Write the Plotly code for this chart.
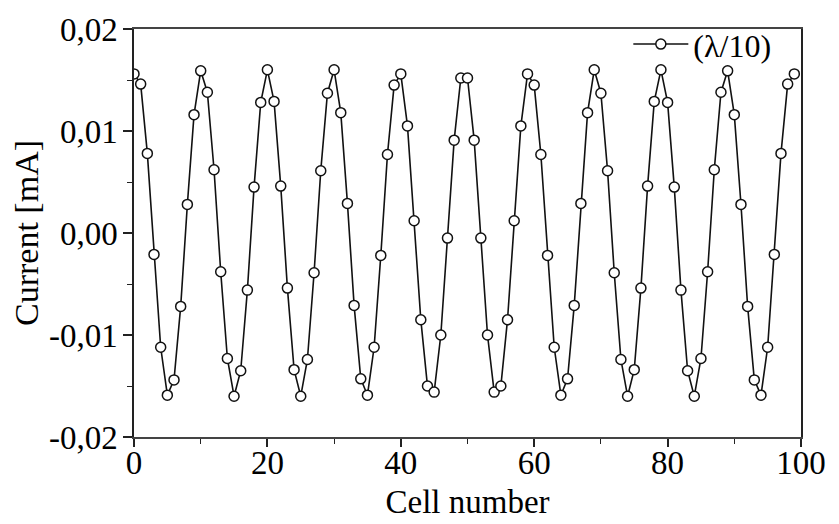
import plotly.graph_objects as go

cells = list(range(100))
current = [
    0.0156, 0.0146, 0.0078, -0.0021, -0.0112, -0.0159, -0.0144, -0.0072, 0.0028, 0.0116,
    0.0159, 0.0138, 0.0062, -0.0038, -0.0123, -0.0160, -0.0135, -0.0056, 0.0045, 0.0128,
    0.0160, 0.0129, 0.0046, -0.0054, -0.0134, -0.0160, -0.0124, -0.0039, 0.0061, 0.0137,
    0.0160, 0.0118, 0.0029, -0.0071, -0.0143, -0.0159, -0.0112, -0.0022, 0.0077, 0.0145,
    0.0156, 0.0105, 0.0012, -0.0085, -0.0150, -0.0156, -0.0100, -0.0005, 0.0091, 0.0152,
    0.0152, 0.0091, -0.0005, -0.0100, -0.0156, -0.0150, -0.0085, 0.0012, 0.0105, 0.0156,
    0.0145, 0.0077, -0.0022, -0.0112, -0.0159, -0.0143, -0.0071, 0.0029, 0.0118, 0.0160,
    0.0137, 0.0061, -0.0039, -0.0124, -0.0160, -0.0134, -0.0054, 0.0046, 0.0129, 0.0160,
    0.0128, 0.0045, -0.0056, -0.0135, -0.0160, -0.0123, -0.0038, 0.0062, 0.0138, 0.0159,
    0.0116, 0.0028, -0.0072, -0.0144, -0.0159, -0.0112, -0.0021, 0.0078, 0.0146, 0.0156,
]
series_name = "(λ/10)"
x_ticks = [0, 20, 40, 60, 80, 100]
y_ticks = [-0.02, -0.01, 0.0, 0.01, 0.02]
y_tick_labels = ["-0,02", "-0,01", "0,00", "0,01", "0,02"]

font_family = "Liberation Serif, Times New Roman, serif"

fig = go.Figure()
fig.add_trace(go.Scatter(
    x=cells, y=current, mode="lines+markers", name=series_name,
    line=dict(color="#111111", width=1.6),
    marker=dict(symbol="circle", size=10, color="white",
                line=dict(color="#111111", width=1.5)),
))

# the page body adds an 8px offset; margins compensate so the frame lands at 134..801 / 29..437
fig.update_layout(
    width=839, height=524,
    margin=dict(l=126, r=46, t=21, b=95, autoexpand=False),
    paper_bgcolor="white", plot_bgcolor="white",
    font=dict(family=font_family, size=33, color="black"),
    showlegend=True,
    legend=dict(x=0.963, y=1.03, xanchor="right", yanchor="top",
                bgcolor="rgba(0,0,0,0)", font=dict(size=32),
                itemwidth=55, borderwidth=0, tracegroupgap=0),
)
fig.update_xaxes(
    range=[0, 100], tickvals=x_ticks, ticks="outside", ticklen=8, tickwidth=1.5,
    tickcolor="#222222",
    minor=dict(dtick=10, ticks="outside", ticklen=5, tickcolor="#222222", tickwidth=1),
    showline=True, linecolor="#444444", linewidth=2, mirror=True,
    showgrid=False, zeroline=False, automargin=False,
    title=dict(text="Cell number", font=dict(size=33), standoff=10),
    tickfont=dict(size=33), ticklabelstandoff=-13,
)
fig.update_yaxes(
    range=[-0.02, 0.02], tickvals=y_ticks, ticktext=y_tick_labels,
    ticks="outside", ticklen=9, tickwidth=1.5, tickcolor="#222222",
    minor=dict(tickvals=[-0.015, -0.005, 0.005, 0.015], ticks="outside", ticklen=5,
               tickcolor="#222222", tickwidth=1),
    showline=True, linecolor="#222222", linewidth=1.5, mirror=True,
    showgrid=False, zeroline=False, automargin=False,
    title=dict(text="Current [mA]", font=dict(size=34), standoff=2),
    tickfont=dict(size=33), ticklabelstandoff=-1,
)

fig.write_html("out.html")
